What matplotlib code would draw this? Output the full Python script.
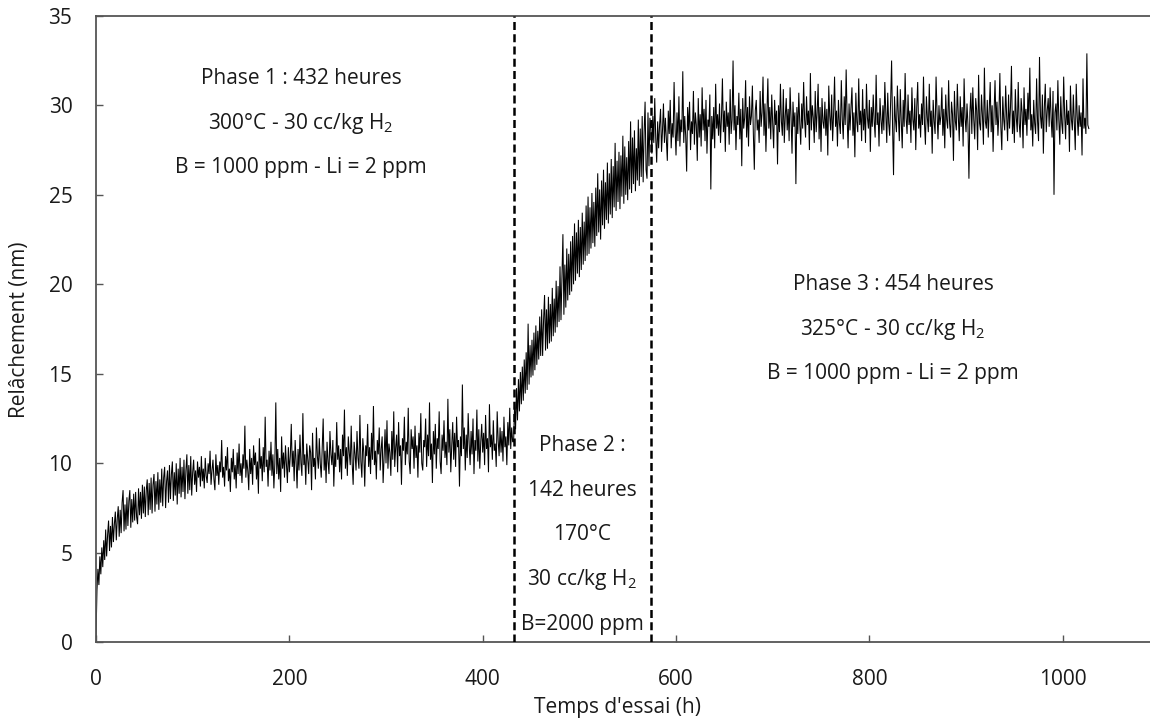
import numpy as np
import matplotlib
matplotlib.use("Agg")
import matplotlib.pyplot as plt

plt.rcParams['font.family'] = ['Open Sans', 'DejaVu Sans']
plt.rcParams['mathtext.default'] = 'regular'

# Duration of each test phase (h)
phase_hours = [432, 142, 454]
sample_step_h = 1

# Measured relaxation (nm), one reading per hour
relax_phase1 = [
    0.3, 2.9, 4.1, 3.2, 4.8, 3.8, 5.3, 4.2, 5.7, 4.6,
    6.3, 4.8, 6.0, 6.8, 5.1, 6.5, 5.3, 7.0, 5.6, 6.6,
    7.3, 5.7, 6.9, 7.6, 5.9, 7.4, 6.1, 7.8, 8.5, 6.2,
    7.7, 6.3, 8.1, 6.5, 7.9, 8.5, 6.4, 8.0, 6.7, 8.3,
    6.8, 8.4, 7.0, 6.6, 8.6, 7.1, 8.4, 6.9, 8.8, 7.2,
    8.7, 7.0, 8.5, 9.1, 7.1, 8.9, 7.4, 9.2, 7.2, 8.8,
    9.4, 7.3, 9.0, 7.7, 9.5, 7.4, 9.1, 7.8, 9.7, 7.6,
    9.2, 9.8, 7.5, 9.0, 9.6, 7.8, 9.9, 8.0, 9.4, 10.1,
    7.9, 9.5, 8.2, 10.0, 7.7, 9.7, 8.3, 10.3, 8.1, 9.8,
    8.4, 10.2, 8.0, 9.6, 10.5, 8.3, 9.9, 8.5, 10.4, 8.2,
    9.5, 10.2, 8.8, 9.6, 8.4, 10.1, 9.2, 9.8, 8.7, 10.4,
    9.0, 9.7, 8.6, 10.3, 9.3, 8.9, 10.0, 9.4, 10.7, 8.8,
    9.6, 10.2, 9.1, 8.5, 10.5, 9.3, 9.9, 8.8, 10.1, 9.5,
    11.3, 9.2, 9.8, 8.7, 10.4, 9.6, 10.9, 9.0, 9.7, 8.4,
    10.3, 9.5, 10.8, 9.1, 9.9, 8.6, 10.6, 9.4, 11.1, 9.3,
    10.0, 8.9, 10.5, 9.7, 12.1, 9.2, 10.2, 9.6, 8.5, 10.8,
    9.4, 10.3, 8.8, 11.0, 9.9, 10.6, 9.1, 10.1, 8.3, 11.4,
    9.7, 10.4, 9.0, 10.9, 9.5, 12.6, 9.8, 10.2, 8.7, 10.7,
    9.6, 11.2, 9.3, 10.5, 8.6, 10.0, 13.4, 9.4, 10.8, 9.1,
    10.3, 8.4, 11.5, 9.7, 10.6, 9.2, 11.0, 9.9, 8.9, 10.9,
    9.5, 10.4, 12.2, 9.8, 10.7, 9.0, 11.3, 10.1, 8.6, 10.8,
    9.6, 11.6, 10.0, 9.3, 12.8, 9.9, 10.5, 8.8, 11.1, 10.2,
    9.4, 11.0, 10.6, 8.5, 11.7, 9.8, 10.3, 9.1, 12.0, 10.4,
    9.7, 11.4, 10.0, 9.2, 10.9, 12.5, 9.6, 10.7, 8.9, 11.2,
    10.1, 9.4, 11.8, 10.5, 9.9, 11.3, 8.7, 10.6, 9.8, 12.3,
    10.2, 11.0, 9.5, 10.8, 9.1, 11.6, 10.4, 13.0, 9.7, 10.9,
    9.3, 11.5, 10.6, 9.9, 12.1, 10.0, 8.8, 11.2, 10.5, 9.6,
    11.8, 10.3, 9.7, 12.7, 10.1, 9.2, 11.4, 10.6, 8.7, 11.0,
    10.4, 12.2, 9.8, 10.9, 9.4, 11.7, 10.2, 13.2, 9.9, 10.7,
    9.1, 11.3, 10.5, 12.0, 9.6, 10.8, 11.5, 8.9, 10.3, 11.9,
    10.0, 12.4, 9.7, 11.1, 10.6, 9.3, 11.8, 10.2, 12.9, 9.8,
    10.9, 11.6, 9.5, 12.3, 10.4, 11.0, 8.8, 11.4, 10.7, 12.6,
    9.9, 11.2, 10.5, 13.1, 10.1, 9.4, 11.9, 10.8, 11.5, 9.7,
    12.1, 10.3, 11.0, 9.2, 11.7, 10.6, 12.8, 10.0, 9.6, 11.3,
    10.9, 12.5, 9.8, 11.6, 10.4, 13.4, 10.2, 11.1, 8.9, 11.8,
    10.5, 12.2, 9.7, 11.4, 10.8, 12.9, 10.1, 9.4, 11.6, 10.7,
    12.4, 10.3, 11.2, 9.9, 13.6, 10.6, 11.9, 9.5, 11.0, 12.3,
    10.2, 11.7, 9.8, 12.6, 10.9, 11.3, 8.7, 11.5, 10.4, 14.4,
    10.8, 12.0, 9.6, 11.6, 10.3, 12.8, 11.1, 9.9, 11.8, 10.5,
    12.5, 9.4, 11.3, 10.7, 13.0, 10.1, 11.9, 9.7, 11.2, 12.2,
    10.6, 11.7, 9.9, 12.7, 10.8, 11.4, 9.5, 13.3, 10.9, 11.6,
    10.2, 12.4, 10.7, 11.1, 9.8, 12.9, 11.3, 10.4, 12.0, 10.6,
    11.8, 10.1, 12.6, 10.9, 11.5, 9.9, 12.3, 11.0, 13.1, 10.8,
    12.0, 11.2,
]
relax_phase2 = [
    11.2, 13.3, 11.9, 14.2, 12.4, 14.7, 12.9, 15.1, 13.3, 15.4,
    13.5, 15.8, 13.9, 16.2, 14.1, 17.8, 14.4, 16.6, 14.8, 16.9,
    14.9, 17.3, 15.2, 17.7, 15.5, 17.4, 15.8, 18.2, 16.0, 18.6,
    16.0, 18.0, 19.4, 16.3, 18.6, 16.4, 19.3, 16.7, 18.9, 16.8,
    19.8, 17.1, 19.2, 17.3, 20.2, 17.6, 19.9, 17.9, 21.0, 18.0,
    20.4, 22.8, 18.3, 21.1, 18.7, 22.0, 19.1, 21.7, 19.4, 22.4,
    19.6, 22.7, 20.0, 23.4, 20.2, 22.9, 20.6, 23.6, 20.4, 23.2,
    20.8, 24.0, 21.1, 23.5, 21.3, 24.4, 21.6, 24.9, 21.7, 24.3,
    22.0, 25.1, 22.3, 24.6, 22.1, 25.4, 22.7, 26.2, 22.9, 25.3,
    22.5, 25.8, 23.3, 26.4, 23.1, 25.7, 23.6, 26.8, 23.4, 26.2,
    23.9, 27.0, 23.7, 26.6, 24.3, 27.9, 24.1, 26.9, 24.6, 27.4,
    24.2, 27.2, 24.9, 28.3, 24.5, 27.7, 25.0, 27.1, 24.7, 28.0,
    25.3, 29.1, 25.1, 28.2, 25.6, 28.6, 25.2, 27.6, 25.8, 29.2,
    25.5, 28.7, 26.0, 29.4, 25.7, 28.5, 30.2, 26.4, 25.9, 29.6,
    26.6, 29.3,
]
relax_phase3 = [
    28.7, 27.3, 29.4, 27.9, 30.4, 28.2, 26.8, 29.1, 27.6, 28.9,
    29.8, 27.4, 28.6, 30.1, 27.9, 29.3, 28.1, 26.9, 29.7, 28.4,
    30.3, 27.6, 29.0, 28.2, 31.3, 28.7, 27.2, 29.6, 28.0, 30.5,
    27.7, 29.2, 28.5, 31.9, 27.9, 29.4, 28.3, 26.3, 29.9, 28.6,
    30.2, 27.5, 29.1, 28.4, 30.8, 27.8, 29.6, 28.9, 26.9, 30.4,
    28.2, 29.5, 27.7, 31.0, 28.6, 29.8, 28.0, 30.3, 27.3, 29.2,
    28.8, 30.6, 25.3, 29.4, 28.1, 29.9, 27.6, 31.2, 28.7, 29.5,
    28.3, 30.1, 27.9, 29.3, 31.5, 28.5, 29.7, 27.4, 30.2, 28.8,
    29.6, 27.8, 30.9, 28.4, 29.2, 32.5, 28.6, 30.0, 27.5, 29.4,
    28.9, 30.7, 28.1, 29.8, 26.6, 30.4, 28.7, 29.3, 31.4, 28.2,
    29.9, 27.7, 30.5, 28.9, 29.4, 31.1, 28.4, 26.4, 29.7, 30.3,
    28.6, 29.2, 27.9, 30.8, 28.8, 29.6, 31.6, 28.3, 30.1, 27.4,
    29.5, 31.5, 28.7, 29.9, 28.1, 30.6, 29.0, 27.6, 30.3, 28.9,
    29.7, 26.7, 30.0, 28.5, 31.2, 29.1, 28.3, 30.9, 27.9, 29.4,
    30.4, 28.6, 29.8, 28.0, 31.0, 29.3, 27.3, 30.2, 28.8, 29.6,
    25.6, 29.9, 28.4, 30.7, 29.0, 27.8, 30.1, 28.7, 31.3, 29.2,
    28.2, 30.5, 28.9, 29.7, 27.5, 31.8, 28.6, 30.0, 29.3, 27.9,
    30.8, 28.5, 29.6, 31.2, 28.1, 29.9, 27.4, 30.4, 29.1, 28.7,
    30.2, 28.3, 29.8, 27.2, 31.1, 29.4, 28.6, 30.6, 28.0, 29.5,
    31.6, 28.8, 29.7, 27.7, 30.3, 29.0, 28.4, 31.4, 29.2, 28.1,
    30.5, 28.9, 32.0, 29.3, 27.6, 30.1, 28.6, 29.9, 31.0, 28.3,
    29.6, 27.1, 30.7, 29.1, 28.5, 31.5, 28.9, 29.7, 28.0, 30.9,
    28.6, 29.8, 27.9, 31.2, 29.3, 28.7, 30.3, 27.4, 29.9, 28.8,
    30.6, 29.1, 28.2, 31.7, 28.9, 29.6, 27.7, 30.4, 29.2, 28.4,
    30.0, 28.6, 31.3, 29.5, 27.9, 30.7, 29.0, 28.3, 30.2, 32.5,
    28.8, 26.1, 30.5, 29.2, 28.5, 31.1, 29.4, 28.0, 30.9, 29.1,
    27.6, 30.3, 28.8, 31.8, 29.3, 28.4, 30.6, 28.9, 29.7, 27.9,
    31.0, 29.2, 28.6, 30.4, 27.5, 29.9, 31.3, 28.7, 29.5, 28.2,
    30.1, 28.9, 31.6, 29.0, 27.8, 30.5, 29.3, 28.5, 31.2, 28.8,
    29.7, 27.3, 30.3, 29.1, 28.4, 31.6, 29.6, 28.1, 30.0, 28.9,
    29.4, 31.0, 28.3, 29.8, 27.6, 30.6, 29.2, 28.7, 31.4, 29.0,
    28.2, 30.2, 29.5, 26.9, 30.8, 29.1, 28.6, 31.2, 29.4, 28.0,
    30.5, 28.8, 29.9, 27.7, 31.5, 29.3, 28.5, 30.1, 28.9, 25.9,
    29.6, 30.7, 28.4, 31.0, 29.2, 28.1, 30.4, 29.7, 27.5, 31.7,
    29.0, 28.6, 30.6, 29.4, 27.8, 32.1, 29.1, 28.7, 30.3, 28.2,
    29.8, 31.3, 28.5, 30.0, 27.4, 29.6, 31.4, 28.9, 30.2, 28.3,
    29.5, 31.8, 28.8, 27.5, 30.5, 29.2, 28.6, 31.1, 29.4, 28.0,
    30.6, 28.7, 29.9, 32.2, 28.4, 29.7, 27.9, 30.9, 29.3, 28.5,
    31.3, 29.0, 28.2, 30.4, 29.6, 27.6, 31.0, 28.9, 29.8, 28.3,
    30.7, 29.2, 32.1, 28.6, 29.5, 27.7, 30.3, 29.0, 28.4, 31.5,
    29.1, 28.0, 32.7, 29.4, 28.7, 30.6, 27.3, 29.9, 31.2, 28.5,
    29.7, 30.4, 28.8, 31.0, 29.3, 28.2, 30.8, 25.0, 29.6, 30.1,
    28.6, 31.4, 29.2, 27.8, 30.5, 29.0, 28.4, 31.6, 29.5, 28.1,
    30.3, 28.9, 29.7, 27.4, 31.1, 29.2, 28.6, 30.6, 29.0, 27.5,
    31.2, 29.4, 28.3, 30.0, 28.8, 29.6, 27.2, 31.5, 28.7, 29.3,
    28.4, 32.9, 28.9, 28.7,
]

x_ticks = [0, 200, 400, 600, 800, 1000]
y_ticks = [0, 5, 10, 15, 20, 25, 30, 35]

phase1_text = ["Phase 1 : 432 heures", "300°C - 30 cc/kg H$_2$",
               "B = 1000 ppm - Li = 2 ppm"]
phase2_text = ["Phase 2 :", "142 heures", "170°C", "30 cc/kg H$_2$",
               "B=2000 ppm"]
phase3_text = ["Phase 3 : 454 heures", "325°C - 30 cc/kg H$_2$",
               "B = 1000 ppm - Li = 2 ppm"]

# Phase boundaries and sampling times
bounds = np.concatenate([[0], np.cumsum(phase_hours)])
series = [relax_phase1, relax_phase2, relax_phase3]
hours = np.concatenate([
    bounds[i] + sample_step_h * np.arange(len(vals))
    for i, vals in enumerate(series)
])
relax = np.concatenate(series)

fig = plt.figure(figsize=(11.5, 7.24), dpi=100)
ax = fig.add_axes([96 / 1150, 1 - 642.3 / 724, 1 - 96 / 1150, (642.3 - 15.8) / 724])

ax.plot(hours, relax, color='black', lw=0.75, solid_joinstyle='miter')

for b in bounds[1:3]:
    ax.axvline(b, color='black', lw=1.8, linestyle=(0, (3.2, 1.7)), zorder=3)

ax.set_xlim(0, (1150 - 96) / 0.9667)
ax.set_ylim(0, 35)
ax.set_xticks(x_ticks)
ax.set_yticks(y_ticks)

spine_col = '#555555'
for side in ['left', 'bottom', 'top']:
    ax.spines[side].set_color(spine_col)
    ax.spines[side].set_linewidth(1.3)
ax.spines['right'].set_visible(False)
ax.tick_params(direction='in', length=5, width=1.0, color=spine_col,
               labelsize=15, labelcolor='#1a1a1a')
ax.tick_params(axis='x', pad=19)
ax.tick_params(axis='y', pad=17)

fig.text(617 / 1150, 1 - 708 / 724, "Temps d'essai (h)", ha='center',
         va='center', fontsize=15, color='#1a1a1a')
fig.text(20 / 1150, 1 - 330 / 724, "Relâchement (nm)", ha='center',
         va='center', rotation=90, fontsize=15, color='#1a1a1a')

text_kw = dict(ha='center', va='center', fontsize=15, color='#1a1a1a')
for i, line in enumerate(phase1_text):
    ax.text(212, 31.5 - 2.5 * i, line, **text_kw)
mid2 = (bounds[1] + bounds[2]) / 2
for i, line in enumerate(phase2_text):
    ax.text(mid2, 11.0 - 2.5 * i, line, **text_kw)
for i, line in enumerate(phase3_text):
    ax.text(824.5, 20.0 - 2.5 * i, line, **text_kw)

fig.savefig("out.png", dpi=100)
